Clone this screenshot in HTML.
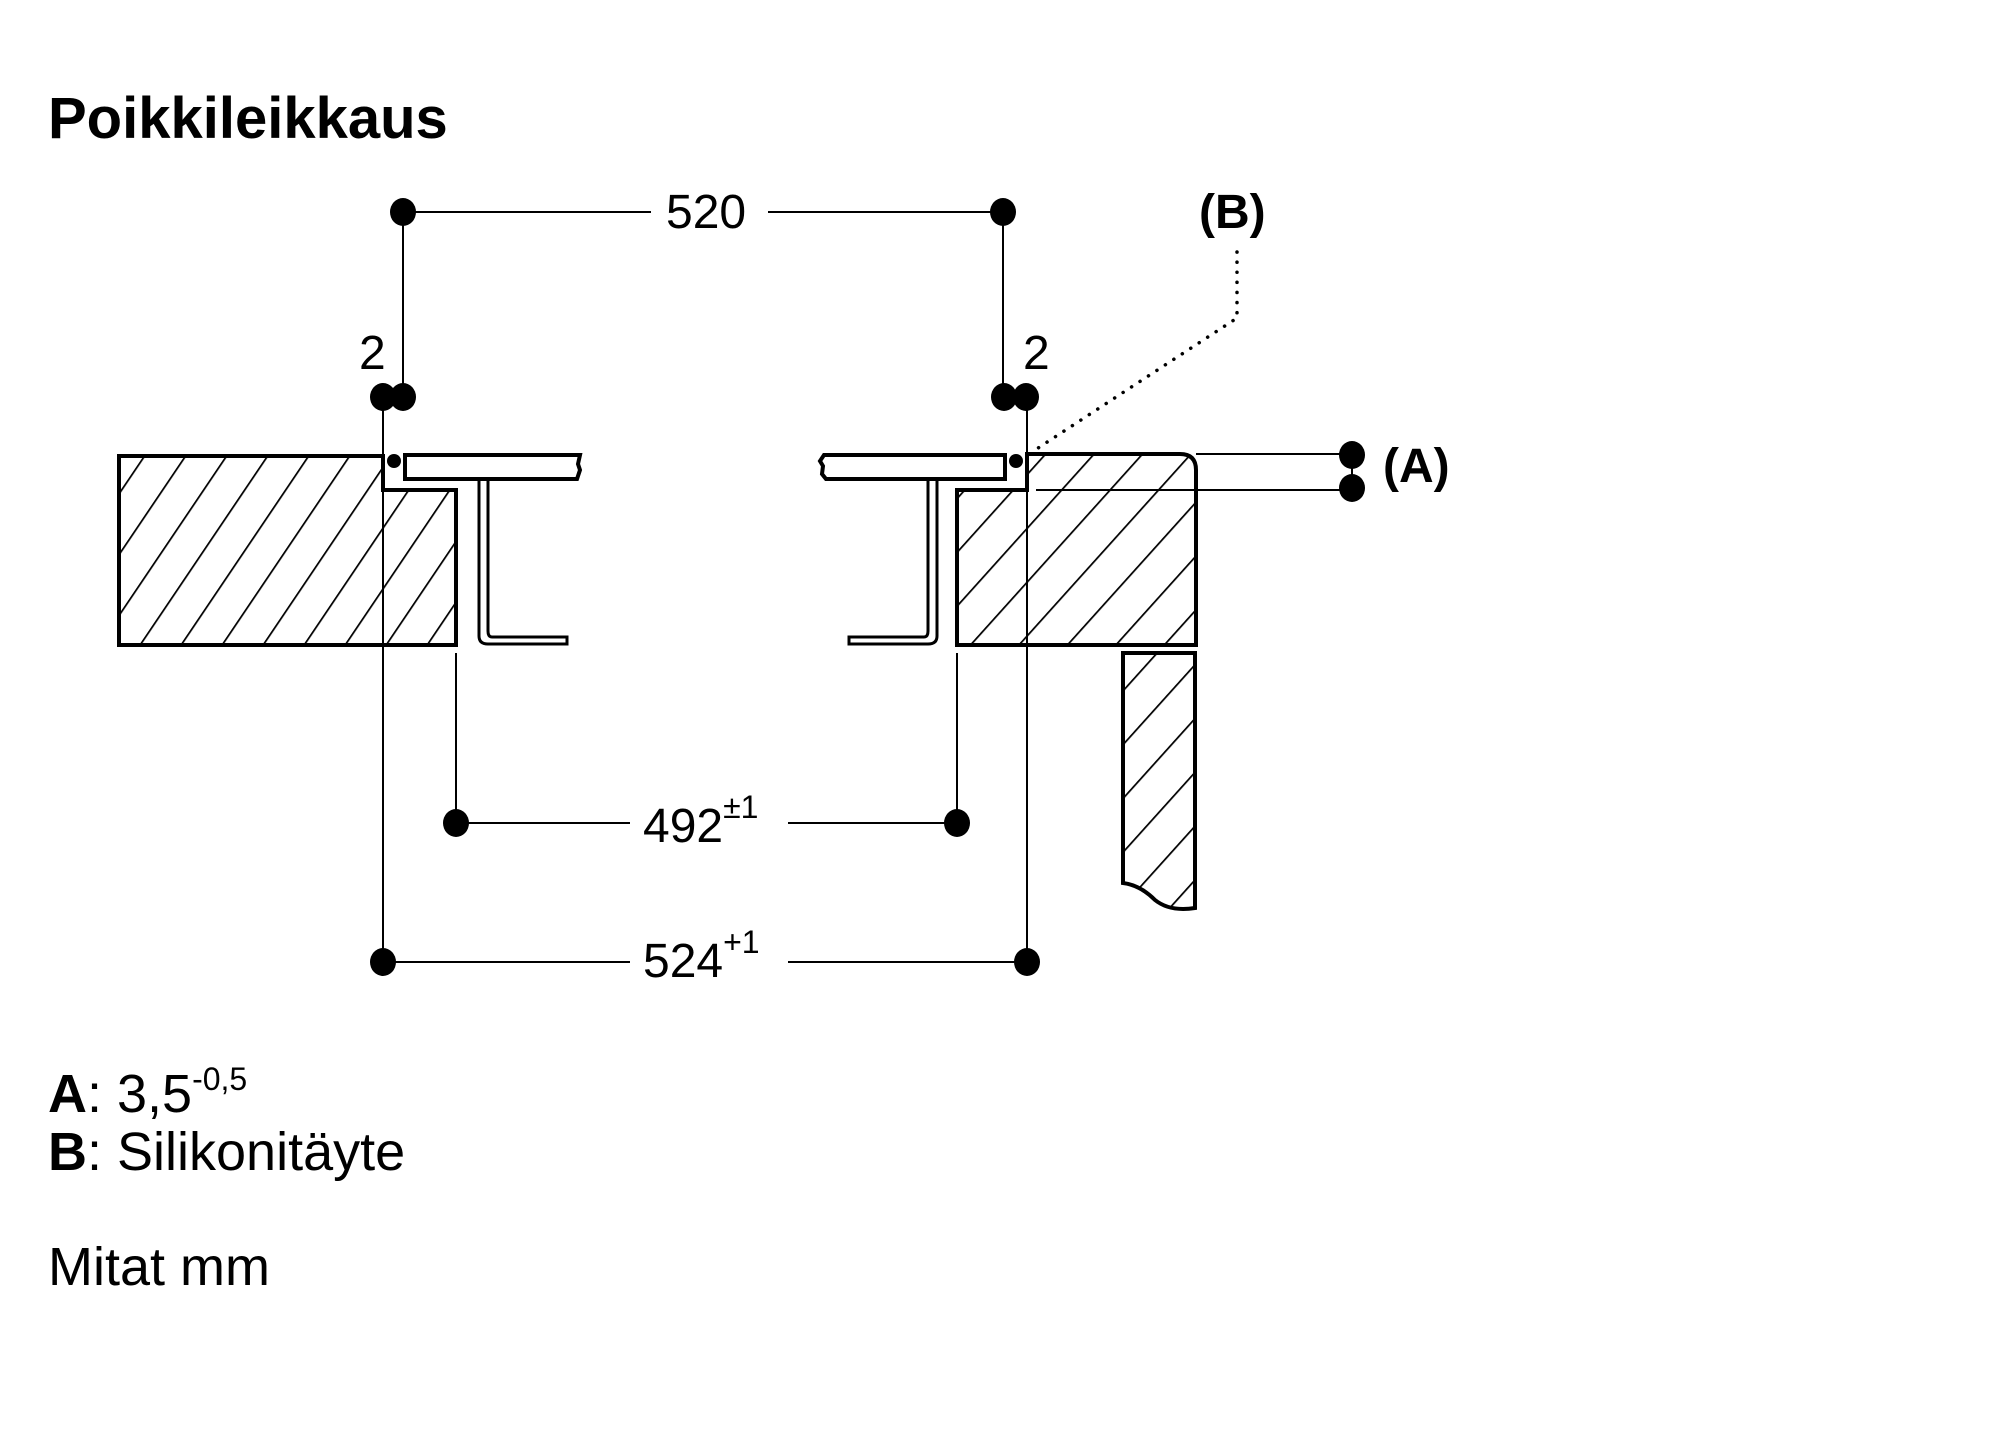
<!DOCTYPE html>
<html><head><meta charset="utf-8"><style>
body{margin:0;background:#fff;}
svg{display:block;font-family:"Liberation Sans",Arial,sans-serif;}
</style></head><body>
<svg width="2000" height="1452" viewBox="0 0 2000 1452" xmlns="http://www.w3.org/2000/svg">
<defs>
<pattern id="h" patternUnits="userSpaceOnUse" width="36" height="36" patternTransform="rotate(42)">
<line x1="0" y1="0" x2="0" y2="36" stroke="#000" stroke-width="3.5"/>
</pattern>
<pattern id="h2" patternUnits="userSpaceOnUse" width="34" height="34" patternTransform="rotate(34)">
<line x1="0" y1="0" x2="0" y2="34" stroke="#000" stroke-width="3.5"/>
</pattern>
</defs>
<text x="48" y="138" font-size="58" font-weight="bold">Poikkileikkaus</text>

<!-- left slab -->
<path d="M119,456 L383,456 L383,490 L456,490 L456,645 L119,645 Z" fill="url(#h2)" stroke="#000" stroke-width="4"/>
<!-- right slab -->
<path d="M1027,454 L1180,454 Q1196,454 1196,470 L1196,645 L957,645 L957,490 L1027,490 Z" fill="url(#h)" stroke="#000" stroke-width="4"/>
<!-- lower panel -->
<path d="M1123,653 L1195,653 L1195,908 Q1170,912 1155,900 Q1140,885 1123,883 Z" fill="url(#h)" stroke="#000" stroke-width="4"/>

<!-- left plate -->
<path d="M405,455 L580,455 L578,464 L580,470 L577,479 L405,479 Z" fill="#fff" stroke="#000" stroke-width="4"/>
<!-- left bracket -->
<path d="M479,481 L479,636 Q479,644 488,644 L567,644 L567,637 L492,637 Q488,637 488,631 L488,481" fill="#fff" stroke="#000" stroke-width="3"/>
<!-- right plate -->
<path d="M1005,455 L824,455 L820,461 L823,466 L822,474 L826,479 L1005,479 Z" fill="#fff" stroke="#000" stroke-width="4"/>
<!-- right bracket -->
<path d="M937,481 L937,636 Q937,644 928,644 L849,644 L849,637 L924,637 Q928,637 928,631 L928,481" fill="#fff" stroke="#000" stroke-width="3"/>

<!-- silicone dots -->
<circle cx="394" cy="461" r="7"/>
<circle cx="1016" cy="461" r="7"/>

<g stroke="#000" stroke-width="2" fill="none">
<line x1="403" y1="212" x2="651" y2="212"/>
<line x1="768" y1="212" x2="1003" y2="212"/>
<line x1="403" y1="212" x2="403" y2="397"/>
<line x1="1003" y1="212" x2="1003" y2="397"/>
<line x1="383" y1="397" x2="383" y2="962"/>
<line x1="1027" y1="397" x2="1027" y2="962"/>
<line x1="383" y1="962" x2="630" y2="962"/>
<line x1="788" y1="962" x2="1027" y2="962"/>
<line x1="456" y1="653" x2="456" y2="823"/>
<line x1="957" y1="653" x2="957" y2="823"/>
<line x1="456" y1="823" x2="630" y2="823"/>
<line x1="788" y1="823" x2="957" y2="823"/>
<line x1="1196" y1="454" x2="1352" y2="454"/>
<line x1="1036" y1="490" x2="1352" y2="490"/>
<line x1="1352" y1="454" x2="1352" y2="490"/>
</g>
<path d="M1237,252 L1237,318 L1032,452" fill="none" stroke="#000" stroke-width="3.5" stroke-dasharray="0.1 10" stroke-linecap="round"/>

<g fill="#000">
<ellipse cx="403" cy="212" rx="13" ry="14"/>
<ellipse cx="1003" cy="212" rx="13" ry="14"/>
<ellipse cx="383" cy="397" rx="13" ry="14"/>
<ellipse cx="403" cy="397" rx="13" ry="14"/>
<ellipse cx="1004" cy="397" rx="13" ry="14"/>
<ellipse cx="1026" cy="397" rx="13" ry="14"/>
<ellipse cx="456" cy="823" rx="13" ry="14"/>
<ellipse cx="957" cy="823" rx="13" ry="14"/>
<ellipse cx="383" cy="962" rx="13" ry="14"/>
<ellipse cx="1027" cy="962" rx="13" ry="14"/>
<ellipse cx="1352" cy="455" rx="13" ry="14"/>
<ellipse cx="1352" cy="488" rx="13" ry="14"/>
</g>

<g font-size="48">
<text x="666" y="228">520</text>
<text x="359" y="369">2</text>
<text x="1023" y="369">2</text>
<text x="643" y="842">492<tspan font-size="32" dy="-24">±1</tspan></text>
<text x="643" y="977">524<tspan font-size="32" dy="-24">+1</tspan></text>
<text x="1199" y="228" font-weight="bold">(B)</text>
<text x="1383" y="482" font-weight="bold">(A)</text>
</g>

<g font-size="54">
<text x="48" y="1112"><tspan font-weight="bold">A</tspan>:  3,5<tspan font-size="32" dy="-22">-0,5</tspan></text>
<text x="48" y="1170"><tspan font-weight="bold">B</tspan>:  Silikonitäyte</text>
<text x="48" y="1285">Mitat mm</text>
</g>
</svg>
</body></html>
